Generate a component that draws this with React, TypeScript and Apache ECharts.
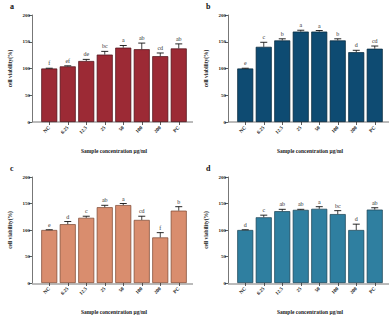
import React, { useEffect, useRef } from "react";
import * as echarts from "echarts";

const categories = ["NC", "6.25", "12.5", "25", "50", "100", "200", "PC"];
const yTicks = [0, 50, 100, 150, 200];

const valuesA = [100, 104, 114, 126, 139, 136, 123, 137.5];
const errA = [0.5, 1, 3, 6, 4, 11.5, 6, 8.5];
const lettersA = ["f", "ef", "de", "bc", "a", "ab", "cd", "ab"];

const valuesB = [100, 140.5, 152.5, 169, 169, 152.5, 130.5, 137];
const errB = [0.5, 8.5, 3, 2.5, 2, 3, 3.5, 5];
const lettersB = ["e", "c", "b", "a", "a", "b", "d", "cd"];

const valuesC = [100, 111, 123, 143, 147, 119, 86, 136.5];
const errC = [0.5, 5, 3, 3.6, 3, 7, 9, 7.5];
const lettersC = ["e", "d", "c", "ab", "a", "cd", "f", "b"];

const valuesD = [100, 124, 135.5, 138, 140, 130, 100, 138.5];
const errD = [0.5, 4, 3.5, 1, 4, 6.5, 11, 3.5];
const lettersD = ["d", "c", "ab", "ab", "a", "bc", "d", "ab"];

const panelNames = ["a", "b", "c", "d"];
const panelColors = ["#9c2a35", "#0e4b72", "#d98d6e", "#2f7fa0"];
const panelBorders = ["#4a1017", "#062538", "#7a4631", "#173f50"];

const FONT = "'Liberation Serif', 'DejaVu Serif', serif";

export default function App() {
  const ref = useRef<HTMLDivElement>(null);
  useEffect(() => {
    if (!ref.current) return;
    const chart = echarts.init(ref.current, undefined, { renderer: "svg" });
    const data = [
      { v: valuesA, e: errA, l: lettersA },
      { v: valuesB, e: errB, l: lettersB },
      { v: valuesC, e: errC, l: lettersC },
      { v: valuesD, e: errD, l: lettersD },
    ];
    const layout = [
      { ox: 0, oy: 0, top: 15 },
      { ox: 196, oy: 0, top: 15 },
      { ox: 0, oy: 158, top: 19 },
      { ox: 196, oy: 158, top: 19 },
    ];
    const H = 107;
    const grids: any[] = [];
    const xAxes: any[] = [];
    const yAxes: any[] = [];
    const series: any[] = [];
    const graphic: any[] = [];
    layout.forEach((p, i) => {
      grids.push({ left: p.ox + 40, top: p.oy + p.top, width: 148, height: H });
      xAxes.push({
        type: "category",
        gridIndex: i,
        data: categories,
        axisLine: { show: false },
        axisTick: { show: true, alignWithLabel: true, length: 3, lineStyle: { color: "#333", width: 0.8 } },
        axisLabel: { rotate: 45, fontSize: 5, fontWeight: "bold", fontFamily: FONT, color: "#222", margin: 5 },
        name: "Sample concentration μg/ml",
        nameLocation: "middle",
        nameGap: 26,
        nameTextStyle: { fontSize: 5.5, fontWeight: "bold", fontFamily: FONT, color: "#222" },
      });
      yAxes.push({
        type: "value",
        gridIndex: i,
        min: yTicks[0],
        max: yTicks[yTicks.length - 1],
        interval: yTicks[1] - yTicks[0],
        offset: 8,
        axisLine: { show: true, lineStyle: { color: "#777", width: 1 } },
        axisTick: { show: true, length: 3, lineStyle: { color: "#333", width: 0.8 } },
        axisLabel: { fontSize: 5, fontWeight: "bold", fontFamily: FONT, color: "#222", margin: 2 },
        splitLine: { show: false },
        name: "cell viability(%)",
        nameLocation: "middle",
        nameGap: 19,
        nameTextStyle: { fontSize: 5.5, fontWeight: "bold", fontFamily: FONT, color: "#222" },
      });
      const d = data[i];
      series.push({
        type: "bar",
        xAxisIndex: i,
        yAxisIndex: i,
        data: d.v,
        barWidth: 16,
        itemStyle: { color: panelColors[i], borderColor: panelBorders[i], borderWidth: 0.7 },
      });
      const letters = d.l;
      series.push({
        type: "custom",
        xAxisIndex: i,
        yAxisIndex: i,
        z: 5,
        itemStyle: { color: "#222" },
        data: d.v.map((v, k) => [k, v, v + d.e[k]]),
        renderItem: (params: any, api: any) => {
          const base = api.coord([api.value(0), api.value(1)]);
          const top = api.coord([api.value(0), api.value(2)]);
          const x = base[0];
          return {
            type: "group",
            children: [
              { type: "line", shape: { x1: x, y1: base[1], x2: x, y2: top[1] }, style: { stroke: "#111", lineWidth: 0.8 } },
              { type: "line", shape: { x1: x - 3.5, y1: top[1], x2: x + 3.5, y2: top[1] }, style: { stroke: "#111", lineWidth: 0.9 } },
              {
                type: "text",
                x: x,
                y: top[1] - 2,
                style: {
                  text: letters[params.dataIndex],
                  align: "center",
                  verticalAlign: "bottom",
                  fontSize: 6,
                  fontFamily: FONT,
                  fill: "#333",
                },
              },
            ],
          };
        },
      });
      graphic.push({
        type: "line",
        shape: { x1: p.ox + 32, y1: p.oy + p.top + H, x2: p.ox + 193, y2: p.oy + p.top + H },
        style: { stroke: "#777", lineWidth: 1 },
      });
      graphic.push({
        type: "text",
        x: p.ox + 10,
        y: p.oy + p.top - 13,
        style: { text: panelNames[i], fontSize: 8, fontWeight: "bold", fontFamily: FONT, fill: "#111" },
      });
    });
    chart.setOption({
      animation: false,
      backgroundColor: "#ffffff",
      grid: grids,
      xAxis: xAxes,
      yAxis: yAxes,
      series,
      graphic,
    });
    return () => chart.dispose();
  }, []);
  return <div ref={ref} style={{ position: "fixed", left: 0, top: 0, width: 392, height: 316 }} />;
}
